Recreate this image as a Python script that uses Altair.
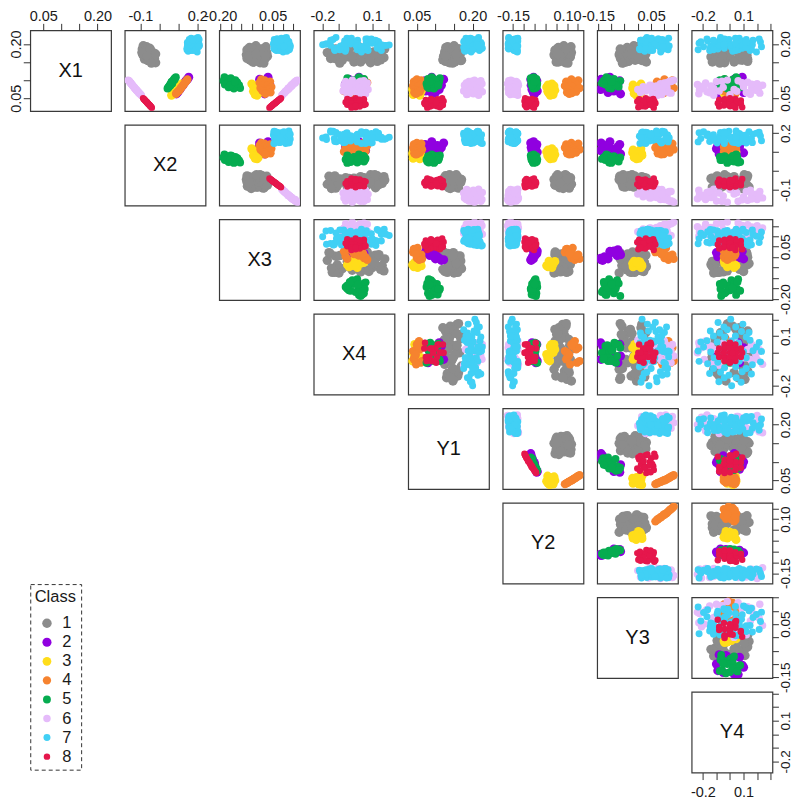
import altair as alt
import pandas as pd

VARS = ["X1", "X2", "X3", "X4", "Y1", "Y2", "Y3", "Y4"]
CLASSES = ["1", "2", "3", "4", "5", "6", "7", "8"]
COLORS = ["#8C8C8C", "#9000E0", "#FFDD1A", "#F6832F", "#06AC50", "#E5BBFA", "#41D0F5", "#E5174C"]
SIZES = [90, 42, 42, 40, 44, 34, 105, 42]

DOMAINS = {
    "X1": [0.0142, 0.2375], "X2": [-0.183, 0.244], "X3": [-0.205, 0.181], "X4": [-0.252, 0.234],
    "Y1": [0.0267, 0.244], "Y2": [-0.198, 0.176], "Y3": [-0.153, 0.151], "Y4": [-0.283, 0.313],
}
TICKS = {
    "X1": [0.05, 0.10, 0.15, 0.20],
    "X2": [-0.1, 0.0, 0.1, 0.2],
    "X3": [-0.20, -0.15, -0.10, -0.05, 0.0, 0.05, 0.10, 0.15],
    "X4": [-0.2, -0.1, 0.0, 0.1, 0.2],
    "Y1": [0.05, 0.10, 0.15, 0.20],
    "Y2": [-0.15, -0.10, -0.05, 0.0, 0.05, 0.10, 0.15],
    "Y3": [-0.15, -0.10, -0.05, 0.0, 0.05, 0.10, 0.15],
    "Y4": [-0.2, -0.1, 0.0, 0.1, 0.2, 0.3],
}
TICK_LABELS = {
    "X1": [0.05, 0.20], "X2": [-0.1, 0.2], "X3": [-0.20, 0.05], "X4": [-0.2, 0.1],
    "Y1": [0.05, 0.20], "Y2": [-0.15, 0.10], "Y3": [-0.15, 0.05], "Y4": [-0.2, 0.1],
}
TICK_FORMAT = {"X1": ".2f", "X2": ".1f", "X3": ".2f", "X4": ".1f", "Y1": ".2f", "Y2": ".2f", "Y3": ".2f", "Y4": ".1f"}

# Columns of every row: X1, X2, X3, X4, Y1, Y2, Y3, Y4
CLASS_1 = [
    [.195,-.085,-.030,-.02,.150,.085,-.015,.14],
    [.190,-.075,-.060,.06,.128,.060,-.040,-.11],
    [.186,-.090,.005,-.12,.162,.110,.010,.03],
    [.182,-.065,-.040,.16,.140,.095,-.060,.02],
    [.180,-.080,-.070,.03,.155,.070,-.030,-.05],
    [.178,-.060,.020,-.07,.125,.050,.020,.10],
    [.176,-.070,-.015,-.17,.147,.120,-.005,-.03],
    [.175,-.050,-.050,.10,.168,.090,-.050,.08],
    [.172,-.088,.010,.12,.135,.065,.030,-.07],
    [.170,-.045,-.075,-.10,.150,.040,-.070,-.12],
    [.168,-.055,-.005,.00,.165,.105,.005,.00],
    [.166,-.075,.025,.07,.122,.045,-.020,.12],
    [.164,-.040,-.035,-.04,.145,.115,-.045,-.14],
    [.162,-.030,-.065,.17,.158,.080,.015,-.02],
    [.160,-.050,.015,-.15,.130,.075,-.065,.06],
    [.158,-.035,-.025,.05,.142,.055,.025,-.09],
    [.155,-.045,-.055,-.08,.170,.100,-.010,.09],
    [.152,-.025,.000,.13,.127,.085,-.035,.13],
    [.150,-.038,-.045,-.01,.152,.060,.032,-.13],
    [.148,-.020,-.010,.09,.138,.092,-.055,-.04],
    [.184,-.058,-.072,-.14,.160,.048,-.025,-.08],
    [.192,-.068,.018,.02,.133,.118,-.002,.05],
    [.174,-.028,.022,-.16,.148,.100,-.068,.11],
    [.156,-.062,-.058,.15,.120,.062,.012,.07],
    [.168,-.085,-.020,-.05,.143,.078,-.048,-.13],
    [.164,-.048,-.068,.08,.125,.108,.022,.10],
    [.178,-.042,.006,.11,.166,.052,-.062,-.06],
    [.158,-.078,-.036,-.11,.154,.088,.008,.13],
    [.188,-.052,-.048,-.035,.146,.058,.028,.060],
    [.171,-.082,-.022,.045,.158,.112,-.056,-.100],
    [.160,-.026,-.072,-.125,.132,.098,-.012,-.095],
    [.182,-.072,.012,.140,.150,.044,-.028,.045],
    [.154,-.060,-.018,.085,.168,.072,.018,-.110],
    [.169,-.036,.016,-.060,.124,.116,-.038,.125],
    [.176,-.092,-.052,-.145,.140,.082,.026,.090],
    [.150,-.030,-.040,.030,.134,.050,-.044,.030],
    [.186,-.048,-.008,.175,.162,.096,-.066,-.015],
    [.166,-.064,-.062,-.020,.128,.068,.002,-.055],
    [.172,-.020,-.028,.115,.156,.056,-.022,.105],
    [.147,-.042,.008,-.095,.146,.104,-.058,-.075],
]
CLASS_2 = [
    [.108,.155,.028,.02,.090,-.055,-.105,.09],
    [.102,.148,-.012,-.04,.122,-.068,-.138,.03],
    [.098,.140,.018,.05,.072,-.040,-.068,-.03],
    [.094,.135,.002,-.01,.105,-.060,-.125,-.09],
    [.090,.128,.036,-.06,.080,-.044,-.075,.07],
    [.086,.124,-.015,.04,.116,-.066,-.132,-.05],
    [.082,.118,.022,.00,.098,-.052,-.100,-.10],
    [.078,.112,.008,-.03,.085,-.048,-.078,.00],
    [.074,.108,-.005,.06,.110,-.062,-.140,.06],
    [.070,.100,.030,-.05,.074,-.038,-.090,-.07],
    [.066,.096,-.008,.03,.100,-.056,-.112,.10],
    [.062,.090,.012,-.02,.092,-.050,-.065,-.08],
]
CLASS_3 = [
    [.090,.118,-.050,.01,.052,.030,.012,.03],
    [.087,.112,-.046,-.04,.042,.012,-.018,-.02],
    [.084,.107,-.022,.05,.060,.040,.008,.00],
    [.081,.102,-.040,-.01,.048,.005,-.006,.045],
    [.078,.097,-.030,.03,.056,.024,-.020,-.04],
    [.075,.092,-.036,-.05,.038,.020,.015,.02],
    [.072,.087,-.020,.02,.050,.044,.002,-.03],
    [.069,.082,-.042,-.03,.062,.010,.016,.04],
    [.066,.078,-.026,.05,.044,.028,-.012,.01],
    [.063,.072,-.018,-.02,.054,.016,-.014,-.045],
    [.060,.067,-.034,.00,.040,.036,.004,.03],
    [.058,.064,-.024,.04,.058,.022,-.005,-.01],
]
CLASS_4 = [
    [.102,.148,-.004,.05,.050,.120,.100,-.04],
    [.099,.144,.012,.03,.062,.152,.130,.02],
    [.096,.140,.038,-.04,.042,.096,.072,.04],
    [.093,.135,-.012,.07,.056,.136,.115,-.02],
    [.090,.131,.030,-.02,.046,.108,.085,.00],
    [.087,.127,.004,-.06,.060,.146,.124,-.045],
    [.084,.123,.024,.01,.040,.090,.066,.03],
    [.081,.118,.044,.04,.052,.126,.106,.045],
    [.078,.114,-.008,-.05,.064,.158,.135,-.01],
    [.075,.110,.034,.00,.044,.102,.078,-.03],
    [.072,.106,.000,.06,.054,.130,.110,.02],
    [.070,.102,.028,-.07,.048,.114,.092,-.045],
    [.068,.098,.008,.02,.058,.142,.120,.035],
    [.066,.094,.040,-.03,.043,.100,.075,.01],
    [.064,.090,.018,.045,.051,.122,.098,-.02],
    [.062,.088,.015,-.01,.047,.110,.088,.04],
]
CLASS_5 = [
    [.108,.087,-.180,.02,.090,-.054,-.118,.045],
    [.105,.082,-.150,-.05,.112,-.068,-.112,.05],
    [.103,.078,-.172,.05,.080,-.042,-.090,-.04],
    [.100,.075,-.128,-.01,.104,-.062,-.126,-.075],
    [.098,.072,-.185,.03,.084,-.044,-.066,-.065],
    [.096,.069,-.158,-.04,.110,-.066,-.130,.00],
    [.094,.066,-.120,.06,.086,-.048,-.088,-.05],
    [.092,.064,-.166,.00,.102,-.060,-.135,-.03],
    [.090,.061,-.142,-.06,.076,-.038,-.082,.00],
    [.088,.058,-.178,.04,.106,-.064,-.122,-.06],
    [.086,.056,-.110,-.02,.088,-.050,-.078,.01],
    [.084,.053,-.150,.02,.094,-.052,-.095,.02],
    [.082,.050,-.125,.05,.078,-.040,-.072,.03],
    [.080,.048,-.160,-.03,.098,-.058,-.105,.075],
    [.078,.045,-.105,.01,.082,-.046,-.108,.06],
    [.077,.043,-.135,-.05,.096,-.056,-.100,-.02],
    [.101,.080,-.145,.045,.100,-.064,-.115,.02],
    [.091,.068,-.118,-.035,.092,-.054,-.128,.055],
    [.085,.058,-.152,.055,.108,-.060,-.084,-.07],
    [.095,.064,-.130,.015,.084,-.050,-.098,-.05],
]
CLASS_6 = [
    [.100,-.165,.168,-.02,.205,-.160,.135,-.02],
    [.098,-.160,.164,.05,.222,-.170,.130,.06],
    [.096,-.158,.160,-.06,.190,-.135,.125,-.10],
    [.094,-.155,.155,.02,.212,-.148,.115,.13],
    [.092,-.150,.158,.07,.183,-.128,.100,-.18],
    [.090,-.150,.150,-.04,.225,-.175,.085,.20],
    [.088,-.146,.146,.00,.200,-.155,.095,-.24],
    [.086,-.142,.140,-.07,.178,-.125,.045,.24],
    [.084,-.140,.142,.04,.215,-.165,.070,-.14],
    [.082,-.136,.135,-.03,.195,-.142,.020,.10],
    [.080,-.132,.132,.06,.208,-.150,.060,-.05],
    [.078,-.130,.126,-.05,.186,-.132,.110,.16],
    [.076,-.128,.128,.03,.220,-.172,.040,-.21],
    [.074,-.122,.122,.075,.197,-.138,.000,.03],
    [.072,-.122,.118,-.01,.205,-.158,.080,.19],
    [.070,-.116,.114,-.075,.176,-.146,.030,-.08],
    [.068,-.114,.110,.05,.226,-.130,.105,-.17],
    [.066,-.108,.108,-.03,.192,-.168,.010,.12],
    [.064,-.108,.104,.01,.210,-.140,.125,.22],
    [.062,-.102,.100,.06,.202,-.152,.055,-.23],
    [.060,-.098,.098,-.05,.184,-.162,.090,.00],
    [.058,-.096,.094,.02,.216,-.128,.075,-.12],
    [.097,-.160,.160,.03,.198,-.150,.120,-.06],
    [.093,-.152,.152,-.02,.218,-.162,.110,.09],
    [.089,-.148,.144,.05,.188,-.145,.098,.16],
    [.085,-.141,.138,-.04,.204,-.135,.050,-.19],
    [.081,-.134,.134,.02,.181,-.155,.072,.215],
    [.077,-.129,.124,-.06,.212,-.165,.035,-.12],
    [.073,-.122,.120,.04,.194,-.130,.090,-.225],
    [.069,-.115,.112,-.02,.222,-.148,.015,.05],
    [.065,-.108,.106,.03,.200,-.170,.118,-.15],
    [.061,-.101,.099,-.04,.186,-.142,.062,.15],
]
CLASS_7 = [
    [.205,.185,.095,-.055,.200,-.150,.060,.225],
    [.192,.160,.120,.008,.215,-.165,.095,.232],
    [.214,.205,.070,.062,.185,-.135,.030,.215],
    [.186,.172,.060,-.128,.222,-.170,.110,.158],
    [.198,.150,.130,-.072,.190,-.140,.020,.165],
    [.210,.195,.108,.012,.205,-.155,.075,.170],
    [.182,.165,.082,.075,.178,-.130,.045,.148],
    [.202,.208,.056,.122,.212,-.160,.100,.140],
    [.200,.180,.125,-.178,.198,-.148,.012,.082],
    [.188,.155,.090,-.115,.208,-.172,.085,.090],
    [.216,.198,.105,-.052,.182,-.128,.052,.068],
    [.194,.176,.066,.006,.218,-.158,.118,.100],
    [.184,.146,.112,.058,.195,-.142,.008,.062],
    [.208,.190,.078,.128,.204,-.166,.068,.085],
    [.196,.168,.134,.172,.188,-.134,.036,.095],
    [.198,.174,.098,-.198,.200,-.152,.042,.012],
    [.212,.210,.058,-.135,.214,-.168,.092,-.008],
    [.180,.152,.118,-.062,.180,-.136,.026,.020],
    [.204,.186,.086,.003,.192,-.146,.106,-.015],
    [.190,.162,.074,.070,.220,-.162,.058,.010],
    [.206,.200,.128,.138,.176,-.130,.082,-.020],
    [.197,.178,.104,.202,.206,-.154,.016,.005],
    [.200,.166,.062,-.175,.194,-.144,.072,-.082],
    [.218,.204,.116,-.118,.216,-.170,.034,-.070],
    [.186,.158,.092,-.058,.184,-.132,.098,-.090],
    [.200,.192,.054,.010,.224,-.164,.048,-.064],
    [.192,.148,.126,.065,.202,-.150,.088,-.095],
    [.210,.182,.080,.118,.186,-.138,.010,-.075],
    [.196,.170,.110,.182,.210,-.160,.066,-.088],
    [.182,.156,.068,-.125,.196,-.146,.024,-.150],
    [.208,.196,.122,-.066,.178,-.128,.104,-.165],
    [.194,.164,.100,.005,.218,-.168,.054,-.142],
    [.214,.188,.072,.072,.192,-.142,.078,-.170],
    [.188,.176,.132,.130,.204,-.156,.040,-.145],
    [.202,.202,.088,-.052,.214,-.172,.014,-.228],
    [.184,.154,.064,.010,.188,-.134,.114,-.235],
    [.206,.172,.114,.064,.200,-.150,.062,-.215],
    [.190,.190,.076,-.095,.176,-.140,.112,.120],
    [.212,.158,.118,-.030,.210,-.148,.044,.120],
    [.178,.200,.100,.035,.196,-.130,.086,.195],
    [.204,.148,.062,.095,.222,-.158,.022,.120],
    [.196,.212,.128,-.150,.186,-.164,.070,.045],
    [.186,.184,.058,-.085,.204,-.136,.006,.042],
    [.216,.168,.092,-.025,.194,-.170,.116,.040],
    [.192,.194,.134,.035,.214,-.144,.038,.045],
    [.202,.150,.084,.100,.182,-.152,.090,.040],
    [.182,.178,.108,.155,.218,-.138,.056,.042],
    [.210,.206,.066,-.150,.190,-.160,.018,-.042],
    [.194,.160,.096,-.090,.208,-.128,.102,-.040],
    [.200,.186,.124,-.030,.180,-.166,.064,-.040],
    [.188,.146,.056,.035,.226,-.146,.030,-.042],
    [.214,.198,.112,.095,.198,-.134,.076,-.040],
    [.198,.168,.078,.155,.212,-.172,.108,-.045],
    [.184,.192,.130,-.095,.200,-.142,.050,-.122],
    [.206,.162,.070,-.030,.184,-.154,.028,-.118],
    [.192,.208,.104,.035,.216,-.136,.094,-.195],
    [.210,.176,.088,.100,.190,-.162,.012,-.122],
]
CLASS_8 = [
    [.050,-.086,.090,.000,.118,-.094,.030,.000],
    [.048,-.082,.086,-.050,.088,-.062,.058,.040],
    [.047,-.081,.084,.050,.106,-.083,.005,-.040],
    [.045,-.077,.080,-.025,.074,-.047,.040,-.080],
    [.044,-.075,.077,.025,.098,-.073,.020,.080],
    [.042,-.072,.073,.000,.122,-.097,.062,.045],
    [.041,-.070,.071,-.025,.082,-.057,-.002,-.040],
    [.040,-.068,.069,.050,.110,-.087,.050,.000],
    [.038,-.065,.065,-.050,.092,-.068,.012,.000],
    [.037,-.063,.063,.025,.070,-.043,.032,-.040],
    [.036,-.061,.061,.000,.114,-.090,.066,-.090],
    [.035,-.059,.058,-.025,.084,-.060,.024,.080],
    [.034,-.058,.056,.025,.100,-.078,.046,.040],
    [.032,-.054,.052,-.050,.076,-.050,.008,-.040],
    [.031,-.052,.050,.050,.120,-.095,.036,.040],
    [.030,-.051,.048,.000,.094,-.071,.054,-.045],
    [.028,-.047,.044,-.025,.104,-.081,.016,.000],
    [.027,-.045,.042,.025,.086,-.064,.028,-.080],
    [.025,-.042,.038,.000,.112,-.088,.002,.090],
    [.024,-.040,.035,-.025,.078,-.053,.060,.040],
    [.046,-.079,.081,.025,.090,-.066,.044,.000],
    [.039,-.066,.067,-.060,.102,-.080,.022,.000],
    [.033,-.056,.054,.060,.072,-.045,.048,.000],
    [.029,-.049,.046,.000,.116,-.092,.010,.020],
]
ALL_ROWS = [CLASS_1, CLASS_2, CLASS_3, CLASS_4, CLASS_5, CLASS_6, CLASS_7, CLASS_8]

frames = []
for name, rows in zip(CLASSES, ALL_ROWS):
    f = pd.DataFrame(rows, columns=VARS)
    f["Class"] = name
    frames.append(f)
df = pd.concat(frames, ignore_index=True)

PANEL = 81
FONT = "Liberation Sans"
LABEL_SIZE = 14.5


def make_axis(var, orient, pad):
    fmt = TICK_FORMAT[var]
    shown = "[" + ",".join(str(v) for v in TICK_LABELS[var]) + "]"
    expr = (
        f"indexof({shown}, round(datum.value*100)/100) >= 0 ? "
        f"replace(format(datum.value,'{fmt}'), '\u2212', '-') : ''"
    )
    kw = dict(
        orient=orient, values=TICKS[var], labelExpr=expr, title=None, grid=False, domain=False,
        tickSize=6 if orient == "right" else 7, tickColor="#333333", tickWidth=1,
        labelFontSize=13.5 if orient == "right" else LABEL_SIZE, labelFont=FONT,
        labelColor="#1a1a1a", labelPadding=pad, labelOverlap=False, labelFlush=False, minExtent=0,
    )
    if orient in ("left", "right"):
        kw.update(labelAngle=270, labelAlign="center", labelBaseline="bottom" if orient == "left" else "top")
    return alt.Axis(**kw)


def x_enc(var, axis):
    return alt.X(f"{var}:Q", scale=alt.Scale(domain=DOMAINS[var], nice=False, zero=False), axis=axis)


def y_enc(var, axis):
    return alt.Y(f"{var}:Q", scale=alt.Scale(domain=DOMAINS[var], nice=False, zero=False), axis=axis)


legend = alt.Legend(
    title="Class", orient="none", legendX=0, legendY=555, values=CLASSES,
    symbolType="circle", symbolSize=55, symbolStrokeWidth=0, symbolOffset=4, labelOffset=7,
    labelFontSize=16.5, labelFont=FONT,
    titleFontSize=16.5, titleFont=FONT, titleFontWeight="normal", titleColor="#1a1a1a",
    labelColor="#1a1a1a", padding=4.5, rowPadding=2.1, titlePadding=10,
)

cells = []
for r, yv in enumerate(VARS):
    for c, xv in enumerate(VARS):
        if c < r:
            cells.append(
                alt.Chart(pd.DataFrame({"a": [0]}))
                .mark_point(opacity=0)
                .encode(x=alt.value(0), y=alt.value(0))
                .properties(width=PANEL, height=PANEL, view=alt.ViewConfig(stroke="transparent"))
            )
        elif c == r:
            xaxis = make_axis(xv, "bottom", 6) if r == 7 else None
            if r == 0:
                xaxis = make_axis(xv, "top", 0)
            yaxis = make_axis(yv, "left", 0) if r == 0 else (make_axis(yv, "right", 0) if r == 7 else None)
            base = alt.Chart(pd.DataFrame({"name": [xv], "px": [sum(DOMAINS[xv]) / 2], "py": [sum(DOMAINS[yv]) / 2]}))
            cells.append(
                base.mark_text(font=FONT, fontSize=20, color="#111111", baseline="middle", align="center")
                .encode(
                    x=alt.X("px:Q", scale=alt.Scale(domain=DOMAINS[xv], nice=False, zero=False), axis=xaxis),
                    y=alt.Y("py:Q", scale=alt.Scale(domain=DOMAINS[yv], nice=False, zero=False), axis=yaxis),
                    text="name:N",
                )
                .properties(width=PANEL, height=PANEL)
            )
        else:
            xaxis = make_axis(xv, "top", 0) if r == 0 else None
            yaxis = make_axis(yv, "right", 0) if c == 7 else None
            cells.append(
                alt.Chart(df)
                .mark_circle(opacity=1, clip=True, strokeWidth=0)
                .encode(
                    x=x_enc(xv, xaxis),
                    y=y_enc(yv, yaxis),
                    color=alt.Color("Class:N", scale=alt.Scale(domain=CLASSES, range=COLORS), legend=legend),
                    size=alt.Size("Class:N", scale=alt.Scale(domain=CLASSES, range=SIZES), legend=None),
                    order=alt.Order("Class:N"),
                )
                .properties(width=PANEL, height=PANEL)
            )

chart = (
    alt.concat(*cells, columns=8, spacing=13.7, bounds="flush", background="white",
               padding={"top": -1.5, "left": -0.7, "right": -1.5, "bottom": 0})
    .configure_view(stroke="#3a3a3a", strokeWidth=1.2)
    .configure_legend(strokeColor="#333333", strokeDash=[4, 3], strokeWidth=1)
)

chart.save("out.html", embed_options={"renderer": "svg", "actions": False})
